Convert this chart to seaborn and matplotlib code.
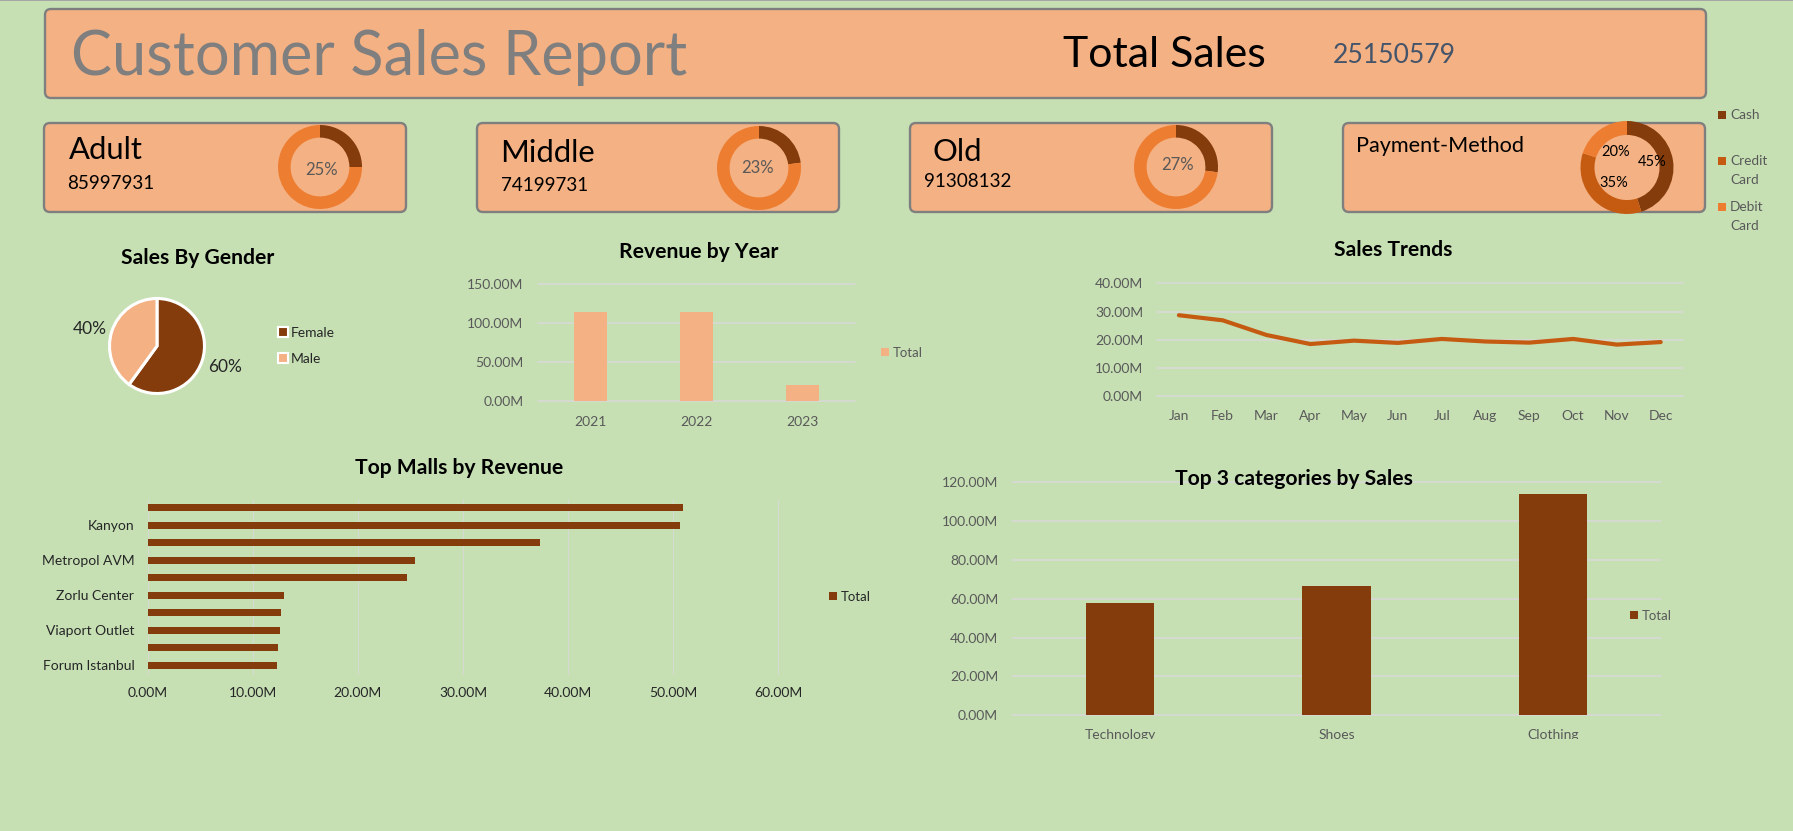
import matplotlib
matplotlib.use("Agg")
import matplotlib.pyplot as plt
from matplotlib.patches import FancyBboxPatch, Patch, Rectangle
from matplotlib.transforms import Bbox
import seaborn as sns
import pandas as pd

# ---------- data ----------
report_title = "Customer Sales Report"
total_label = "Total Sales"
total_value = "25150579"

segments = ["Adult", "Middle", "Old"]
segment_sales = ["85997931", "74199731", "91308132"]
segment_share = [25, 23, 27]

pay_methods = ["Cash", "Credit\nCard", "Debit\nCard"]
pay_share = [45, 35, 20]

genders = ["Female", "Male"]
gender_share = [60, 40]

years = ["2021", "2022", "2023"]
year_rev = [114.5, 114.5, 21.0]

months = ["Jan", "Feb", "Mar", "Apr", "May", "Jun", "Jul", "Aug", "Sep", "Oct", "Nov", "Dec"]
month_rev = [28.7, 26.9, 21.7, 18.5, 19.7, 18.9, 20.3, 19.4, 19.0, 20.3, 18.3, 19.2]

mall_rank = [1, 2, 3, 4, 5, 6, 7, 8, 9, 10]
mall_tick_labels = ["", "Kanyon", "", "Metropol AVM", "", "Zorlu Center", "", "Viaport Outlet", "", "Forum Istanbul"]
mall_rev = [50.9, 50.6, 37.3, 25.4, 24.7, 13.0, 12.7, 12.6, 12.4, 12.3]

categories = ["Technology", "Shoes", "Clothing"]
category_rev = [57.9, 66.6, 114.0]

# ---------- style ----------
W, H = 1793, 831
BG, CARD, EDGE = "#C6E0B4", "#F4B183", "#7F7F7F"
DARK, MID, ORANGE = "#843C0C", "#C55A11", "#ED7D31"
GREY, GRID = "#595959", "#D9D9D9"
FONT = "Lato"
TITLE_SIZE = 15.2

sns.set_theme(style="white")
plt.rcParams["font.family"] = [FONT, "DejaVu Sans"]
fig = plt.figure(figsize=(W / 100, H / 100), dpi=100, facecolor=BG)


def ax_px(x0, y0, x1, y1, z=2):
    ax = fig.add_axes([x0 / W, 1 - y1 / H, (x1 - x0) / W, (y1 - y0) / H], zorder=z)
    ax.patch.set_visible(False)
    return ax


bg = ax_px(0, 0, W, H, z=0)
bg.set_xlim(0, W); bg.set_ylim(H, 0); bg.axis("off")
top = ax_px(0, 0, W, H, z=10)
top.set_xlim(0, W); top.set_ylim(H, 0); top.axis("off")


def T(x, y, s, size, color="black", ha="left", va="center", weight="normal"):
    top.text(x, y, s, fontsize=size, color=color, ha=ha, va=va, fontweight=weight)


def card(x0, y0, x1, y1):
    bg.add_patch(FancyBboxPatch((x0 + 5, y0 + 5), x1 - x0 - 10, y1 - y0 - 10,
                                boxstyle="round,pad=5,rounding_size=6",
                                fc=CARD, ec=EDGE, lw=1.7))


def donut(cx, cy, r, values, colors, width=0.3):
    ax = ax_px(cx - r, cy - r, cx + r, cy + r, z=3)
    ax.pie(values, colors=colors, startangle=90, counterclock=False, radius=1,
           wedgeprops=dict(width=width, linewidth=0))
    ax.set_xlim(-1, 1); ax.set_ylim(-1, 1)
    return ax


def legend(handles, labels, x, y, color=GREY, size=9.5, gap=0.5, hl=0.62, pad=0.25):
    fig.legend(handles, labels, loc="center left", bbox_to_anchor=(x / W, 1 - y / H),
               frameon=False, borderpad=0, borderaxespad=0, handlelength=hl, handleheight=hl,
               handletextpad=pad, fontsize=size, labelcolor=color, labelspacing=gap)


def style_val_axis(ax, ticks, axis="y", tick_color=GREY, size=10, pad=10):
    fmt = [f"{t:.2f}M" for t in ticks]
    if axis == "y":
        ax.set_yticks(ticks, fmt)
        ax.grid(True, axis="y", color=GRID, lw=1.1)
        ax.grid(False, axis="x")
        lines = ax.get_ygridlines()
    else:
        ax.set_xticks(ticks, fmt)
        ax.grid(True, axis="x", color=GRID, lw=0.6)
        ax.grid(False, axis="y")
        lines = ax.get_xgridlines()
    for l in lines:
        l.set_clip_on(False)
    ax.set_axisbelow(True)
    sns.despine(ax=ax, left=True, bottom=True)
    ax.set_xlabel(""); ax.set_ylabel("")
    ax.tick_params(axis="both", length=0, labelsize=size, labelcolor=tick_color, pad=pad)


# ---------- header cards ----------
card(45, 9, 1706, 98)
T(71, 75, report_title, 44.1, "#7F7F7F", va="baseline")
T(1063, 67, total_label, 30.9, va="baseline")
T(1333, 63, total_value, 19.1, "#44546A", va="baseline")

card(44, 123, 406, 212)
card(477, 123, 839, 212)
card(910, 123, 1272, 212)
card(1343, 123, 1705, 212)

T(69, 159, segments[0], 22.3, va="baseline")
T(67, 189, segment_sales[0], 13.6, va="baseline")
T(500, 162, segments[1], 22.3, va="baseline")
T(501, 191, segment_sales[1], 13.6, va="baseline")
T(932, 161, segments[2], 22.3, va="baseline")
T(924, 187, segment_sales[2], 13.6, va="baseline")
T(1356, 152, "Payment-Method", 15.6, va="baseline")

donut_pos = [(320, 167), (759, 168), (1176, 167)]
label_pos = [(321, 170), (758, 168), (1178, 165)]
for (cx, cy), (lx, ly), share in zip(donut_pos, label_pos, segment_share):
    donut(cx, cy, 42, [share, 100 - share], [DARK, ORANGE])
    T(lx, ly, f"{share}%", 12, GREY, ha="center")

donut(1627, 167.5, 46.5, pay_share, [DARK, MID, ORANGE])
for (lx, ly), share in zip([(1652, 162), (1614, 183), (1616, 152)], pay_share):
    T(lx, ly, f"{share}%", 10.5, ha="center")

# payment legend: each swatch sits on the first line of its label
for y, label, col in zip([115, 161, 207], pay_methods, [DARK, MID, ORANGE]):
    bg.add_patch(Rectangle((1718, y - 4), 8, 8, fc=col, ec="none"))
    top.text(1730, y - 6, label, fontsize=9.8, color=GREY, ha="left", va="top", linespacing=1.7)

# ---------- gender pie ----------
T(197.5, 258, "Sales By Gender", TITLE_SIZE, ha="center", weight="bold")
pie_ax = ax_px(157 - 47.5, 346 - 47.5, 157 + 47.5, 346 + 47.5, z=3)
pie_ax.pie(gender_share, colors=[DARK, CARD], startangle=90, counterclock=False,
           wedgeprops=dict(edgecolor="white", linewidth=2.2))
pie_ax.set_xlim(-1, 1); pie_ax.set_ylim(-1, 1)
for w in pie_ax.patches:
    w.set_clip_on(False)
T(225, 366.5, f"{gender_share[0]}%", 12.5, "#262626", ha="center")
T(90, 329.5, f"{gender_share[1]}%", 12.5, "#262626", ha="center")
legend([Patch(fc=DARK, ec="white", lw=1.5), Patch(fc=CARD, ec="white", lw=1.5)], genders,
       278, 346, color="#262626", size=10, gap=1.05, hl=0.72, pad=0.2)

# ---------- revenue by year ----------
T(699, 252, "Revenue by Year", TITLE_SIZE, ha="center", weight="bold")
ax = ax_px(538, 284.3, 855, 401.3)
sns.barplot(x=years, y=year_rev, color=CARD, saturation=1, width=0.31, linewidth=0, ax=ax)
ax.set_ylim(0, 150); ax.set_xlim(-0.5, 2.5)
style_val_axis(ax, [0, 50, 100, 150], pad=10.5)
legend([Patch(fc=CARD, ec="none")], ["Total"], 881, 352.7)

# ---------- sales trends ----------
T(1393, 250.5, "Sales Trends", TITLE_SIZE, ha="center", weight="bold")
ax = ax_px(1157, 283.3, 1682.6, 396.3)
sns.lineplot(x=months, y=month_rev, color=MID, lw=3.0, sort=False, solid_capstyle="round", ax=ax)
ax.set_ylim(0, 40); ax.set_xlim(-0.5, 11.5)
style_val_axis(ax, [0, 10, 20, 30, 40], pad=10)

# ---------- top malls ----------
T(459, 467.5, "Top Malls by Revenue", TITLE_SIZE, ha="center", weight="bold")
ax = ax_px(147.5, 499, 778.4, 674)
sns.barplot(y=mall_rank, x=mall_rev, orient="y", color=DARK, saturation=1, width=0.38, linewidth=0, ax=ax)
ax.set_xlim(0, 60); ax.set_ylim(9.5, -0.5)
style_val_axis(ax, [0, 10, 20, 30, 40, 50, 60], axis="x", tick_color="#262626", pad=9.5)
ax.set_yticks(range(len(mall_rank)), mall_tick_labels)
legend([Patch(fc=DARK, ec="none")], ["Total"], 829, 596.7, color="#262626")

# ---------- top categories ----------
ax = ax_px(1012, 482.3, 1661, 715.3)
sns.barplot(x=categories, y=category_rev, color=DARK, saturation=1, width=0.315, linewidth=0, ax=ax)
ax.set_ylim(0, 120); ax.set_xlim(-0.5, 2.5)
style_val_axis(ax, [0, 20, 40, 60, 80, 100, 120], pad=10)
clip = Bbox.from_extents(0, H - 738.5, W, H)
for lab in ax.get_xticklabels():
    lab.set_clip_box(clip)
    lab.set_clip_on(True)
T(1294, 479, "Top 3 categories by Sales", TITLE_SIZE, ha="center", weight="bold")
legend([Patch(fc=DARK, ec="none")], ["Total"], 1630, 615.7)

# thin grey rule along the top edge of the window
bg.add_patch(Rectangle((0, 0), W, 1.2, fc="#A6A6A6", ec="none"))

fig.savefig("out.png", dpi=100, facecolor=BG)
